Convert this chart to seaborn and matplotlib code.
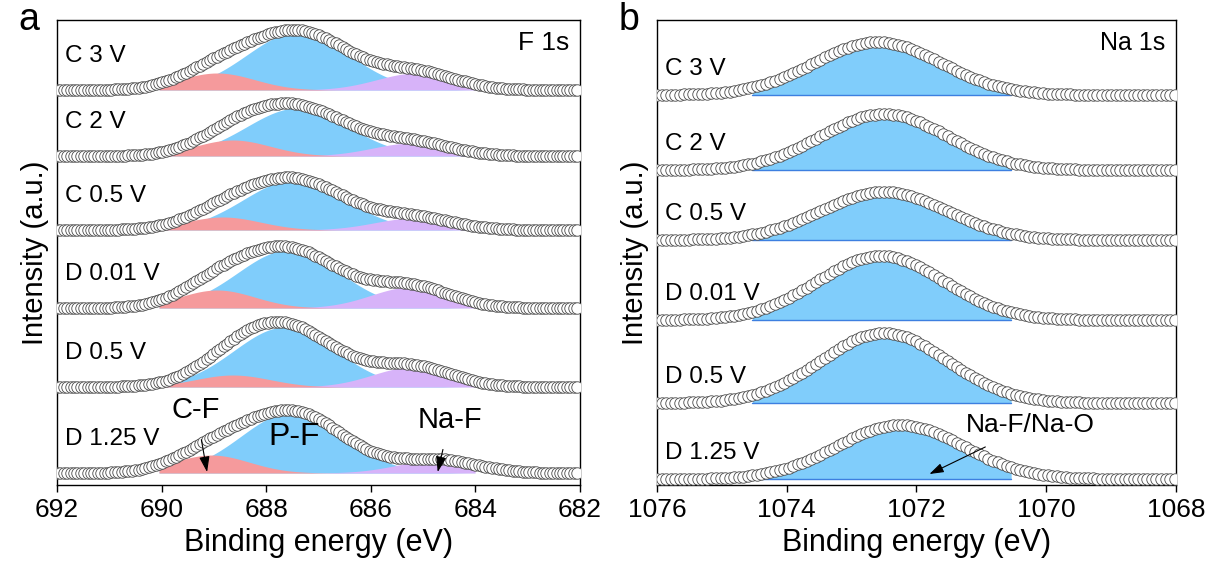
import numpy as np
import matplotlib
matplotlib.use("Agg")
import matplotlib.pyplot as plt
import seaborn as sns

sns.set_theme(style="white")
plt.rcParams['font.family'] = ['Liberation Sans', 'DejaVu Sans']
plt.rcParams.update({"text.color": "black", "axes.labelcolor": "black",
                     "xtick.color": "black", "ytick.color": "black"})

# ---------------- data (peak-fit parameters) ----------------
labels = ["C 3 V", "C 2 V", "C 0.5 V", "D 0.01 V", "D 0.5 V", "D 1.25 V"]

# Panel a: F 1s components (center eV, height a.u., FWHM eV)
pf_center = [687.39, 687.40, 687.46, 687.57, 687.64, 687.50]
pf_height = [58, 48, 50, 58, 60, 61]
cf_center = [688.94, 688.64, 688.83, 688.94, 688.64, 689.05]
cf_height = [17, 16, 13, 18, 12, 18]
naf_center = [685.12, 685.20, 685.16, 685.23, 685.20, 684.72]
naf_height = [17, 13, 12, 21, 20, 13]
fwhm_a = {"P-F": 2.3, "C-F": 1.7, "Na-F": 1.8}

# Panel b: Na 1s component
na_center = [1072.60, 1072.50, 1072.50, 1072.55, 1072.50, 1072.25]
na_height = [53, 56, 48, 64, 70, 54]
fwhm_b = 2.3

# stacking offsets (layout)
offsets_a = [395, 329, 255, 177, 98, 12]
offsets_b = [390, 315, 245, 165, 82, 6]

# energy grids (eV)
E_a = np.arange(692.0, 682.0, -0.065)
E_b = np.arange(1076.0, 1068.0, -0.07)

# ---------------- style ----------------
C_BLUE = "#80CDFB"
C_RED = "#F59A9C"
C_PURP = "#D7B3F9"
C_EDGE = "#4a4a4a"


def gauss(E, c, h, fwhm):
    s = fwhm / 2.3548
    return h * np.exp(-0.5 * ((E - c) / s) ** 2)


fig = plt.figure(figsize=(12.05, 5.63), dpi=100)
ax_a = fig.add_axes([0.0473, 0.1385, 0.434, 0.826])
ax_b = fig.add_axes([0.5452, 0.1385, 0.4307, 0.826])

arrow_kw = dict(arrowstyle="-|>,head_length=0.45,head_width=0.15",
                color="black", lw=0.8, shrinkB=0)

# ---- panel a ----
m_a = (E_a <= 690.1) & (E_a >= 684.0)
for i in range(6):
    off = offsets_a[i]
    pf = gauss(E_a, pf_center[i], pf_height[i], fwhm_a["P-F"])
    cf = gauss(E_a, cf_center[i], cf_height[i], fwhm_a["C-F"])
    nf = gauss(E_a, naf_center[i], naf_height[i], fwhm_a["Na-F"])
    env = pf + cf + nf
    ax_a.fill_between(E_a[m_a], off, off + pf[m_a], color=C_BLUE, lw=0, zorder=1)
    ax_a.fill_between(E_a[m_a], off, off + cf[m_a], color=C_RED, lw=0, zorder=1.2)
    ax_a.fill_between(E_a[m_a], off, off + nf[m_a], color=C_PURP, lw=0, zorder=1.1)
    sns.scatterplot(x=E_a, y=off + env, ax=ax_a, s=68, facecolor="white",
                    edgecolor=C_EDGE, linewidth=0.6, zorder=3, legend=False)
    ax_a.text(0.015, off + 34, labels[i], transform=ax_a.get_yaxis_transform(),
              fontsize=17.5, va="center", ha="left")

ax_a.set_xlim(692, 682)
ax_a.set_ylim(0, 465)
ax_a.set_xticks([692, 690, 688, 686, 684, 682])
ax_a.set_xticks(np.arange(691, 682, 2), minor=True)
ax_a.text(0.98, 0.95, "F 1s", transform=ax_a.transAxes, ha="right", va="center", fontsize=19)
ax_a.annotate("C-F", xy=(689.13, 13), xytext=(689.34, 75), ha="center", va="center",
              fontsize=21, arrowprops=dict(shrinkA=9, **arrow_kw))
ax_a.text(687.46, 48, "P-F", ha="center", va="center", fontsize=23)
ax_a.annotate("Na-F", xy=(684.72, 13), xytext=(684.49, 65), ha="center", va="center",
              fontsize=21, arrowprops=dict(shrinkA=9, **arrow_kw))

# ---- panel b ----
m_b = (E_b <= 1074.55) & (E_b >= 1070.5)
for i in range(6):
    off = offsets_b[i]
    na = gauss(E_b, na_center[i], na_height[i], fwhm_b)
    ax_b.fill_between(E_b[m_b], off, off + na[m_b], color=C_BLUE, lw=0, zorder=1)
    ax_b.plot(E_b[m_b], np.full(m_b.sum(), off), color="#3D7FE0", lw=1.0, zorder=1.5)
    sns.scatterplot(x=E_b, y=off + na, ax=ax_b, s=68, facecolor="white",
                    edgecolor=C_EDGE, linewidth=0.6, zorder=3, legend=False)
    ax_b.text(0.015, off + 26, labels[i], transform=ax_b.get_yaxis_transform(),
              fontsize=17.5, va="center", ha="left")

ax_b.set_xlim(1076, 1068)
ax_b.set_ylim(0, 465)
ax_b.set_xticks([1076, 1074, 1072, 1070, 1068])
ax_b.set_xticks(np.arange(1075, 1068, 2), minor=True)
ax_b.text(0.98, 0.95, "Na 1s", transform=ax_b.transAxes, ha="right", va="center", fontsize=18)
ax_b.annotate("Na-F/Na-O", xy=(1071.8, 11), xytext=(1070.24, 60), ha="center", va="center",
              fontsize=19, arrowprops=dict(shrinkA=11, **arrow_kw))

for ax in (ax_a, ax_b):
    ax.set_yticks([])
    ax.set_xlabel("Binding energy (eV)", fontsize=22, labelpad=5)
    ax.set_ylabel("Intensity (a.u.)", fontsize=21, labelpad=6)
    ax.tick_params(axis="x", which="major", direction="out", length=5, width=1,
                   labelsize=19, bottom=True, pad=4)
    ax.tick_params(axis="x", which="minor", direction="out", length=3, width=1, bottom=True)
    for sp in ax.spines.values():
        sp.set_visible(True)
        sp.set_color("black")
        sp.set_linewidth(1.0)
    ax.set_facecolor("white")

fig.text(0.015, 0.965, "a", fontsize=27, va="center", ha="left")
fig.text(0.513, 0.965, "b", fontsize=27, va="center", ha="left")

fig.savefig("out.png", dpi=100, facecolor="white")
